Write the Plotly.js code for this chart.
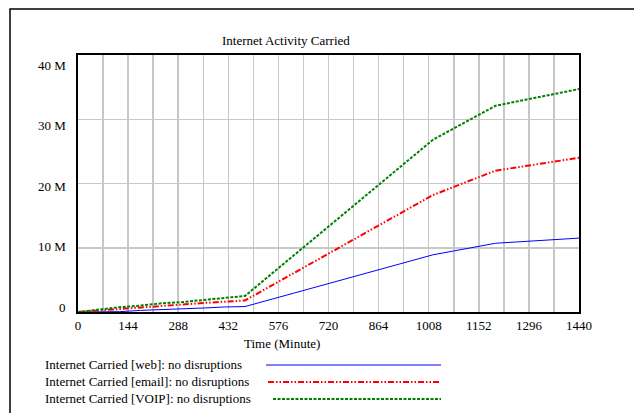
<!DOCTYPE html>
<html>
<head>
<meta charset="utf-8">
<script src="https://cdn.plot.ly/plotly-3.0.1.min.js"></script>
<style>
html,body{margin:0;padding:0;background:#fff;}
#chart{width:634px;height:413px;}
</style>
</head>
<body>
<div id="chart"></div>
<script>
// ---- data ----
var timeMinutes = [0,60,120,180,240,300,360,420,480,540,600,660,720,780,840,900,960,1020,1080,1140,1200,1260,1320,1380,1440];
var webCarried = [0,0.02,0.05,0.25,0.35,0.5,0.62,0.78,0.85,1.74,2.64,3.53,4.43,5.32,6.22,7.11,8.0,8.9,9.5,10.1,10.7,10.9,11.1,11.3,11.5];
var emailCarried = [0,0.25,0.5,0.75,0.95,1.15,1.4,1.6,1.8,3.62,5.44,7.27,9.09,10.91,12.73,14.56,16.38,18.2,19.47,20.73,22.0,22.5,23.0,23.5,24.0];
var voipCarried = [0,0.42,0.75,1.0,1.35,1.55,1.9,2.2,2.5,5.2,7.9,10.6,13.3,16.0,18.7,21.4,24.1,26.8,28.57,30.33,32.1,32.75,33.4,34.05,34.7];
var seriesNames = ["Internet Carried [web]: no disruptions","Internet Carried [email]: no disruptions","Internet Carried [VOIP]: no disruptions"];
var xTickVals = [0,144,288,432,576,720,864,1008,1152,1296,1440];
var yTickVals = [0,10e6,20e6,30e6,40e6];
var yTickText = ["0","10 M","20 M","30 M","40 M"];
var chartTitle = "Internet Activity Carried";
var xTitle = "Time (Minute)";

function M(arr){ return arr.map(function(v){ return v*1e6; }); }

// ---- geometry (pixels) ----
var W = 634, H = 413;
var L = 78, R = 579, T = 55, B = 312;
function px(x){ return (x - L) / (R - L); }
function py(y){ return (B - y) / (B - T); }

var FONT = "Liberation Serif, Times New Roman, serif";
var styles = [
  {color:"#0000ff", width:1, dash:"solid"},
  {color:"#ff0000", width:2, dash:"6px,2px,1.5px,2px,1.5px,2px"},
  {color:"#008000", width:2, dash:"3px,1.5px"}
];
var values = [webCarried, emailCarried, voipCarried];

var traces = values.map(function(v,i){
  return {x: timeMinutes, y: M(v), type:"scatter", mode:"lines", name: seriesNames[i],
          line:{color:styles[i].color, width:styles[i].width, dash:styles[i].dash},
          showlegend:false, hoverinfo:"skip"};
});

var annotations = [];
annotations.push({text: chartTitle, xref:"paper", yref:"paper", x:px(285.5), y:py(40),
  xanchor:"center", yanchor:"middle", showarrow:false, font:{family:FONT, size:13, color:"#000"}});
annotations.push({text: xTitle, xref:"paper", yref:"paper", x:px(282), y:py(343),
  xanchor:"center", yanchor:"middle", showarrow:false, font:{family:FONT, size:13, color:"#000"}});
// y tick labels (drawn in a slightly compressed band, as in the source)
var labTop = 65, labBot = 307;
yTickVals.forEach(function(v,i){
  var ypix = labBot - (v/40e6)*(labBot-labTop);
  annotations.push({text: yTickText[i], xref:"paper", yref:"paper", x:px(68), y:py(ypix),
    xanchor:"right", yanchor:"middle", showarrow:false, font:{family:FONT, size:13, color:"#000"}});
});
// legend texts
var legY = [364, 381, 398];
var legX0 = [266, 268, 273], legX1 = [441, 439, 441];
var shapes = [];
seriesNames.forEach(function(n,i){
  annotations.push({text:n, xref:"paper", yref:"paper", x:px(43), y:py(legY[i]),
    xanchor:"left", yanchor:"middle", showarrow:false, font:{family:FONT, size:13, color:"#000"}});
  shapes.push({type:"line", xref:"paper", yref:"paper", x0:px(legX0[i]), x1:px(legX1[i]),
    y0:py(legY[i]+1), y1:py(legY[i]+1),
    line:{color:styles[i].color, width:styles[i].width, dash:styles[i].dash}});
});
// outer frame
shapes.push({type:"rect", xref:"paper", yref:"paper", x0:px(10), x1:px(700), y0:py(9), y1:py(500),
  line:{color:"#000", width:1.5}, fillcolor:"rgba(0,0,0,0)", layer:"below"});

var layout = {
  width:W, height:H,
  margin:{l:L, r:W-R, t:T, b:H-B, pad:0},
  paper_bgcolor:"#fff", plot_bgcolor:"#fff",
  font:{family:FONT, size:13, color:"#000"},
  showlegend:false,
  xaxis:{range:[0,1440], tickvals:xTickVals, ticktext:xTickVals.map(String),
    showgrid:true, gridcolor:"#c8c8c8", gridwidth:1.5,
    minor:{dtick:72, tick0:0, showgrid:true, gridcolor:"#c8c8c8", gridwidth:1.5},
    showline:true, mirror:true, linecolor:"#000", linewidth:2,
    ticks:"", zeroline:false, tickfont:{family:FONT, size:13, color:"#000"}},
  yaxis:{range:[0,40e6], tickvals:yTickVals, showticklabels:false,
    showgrid:true, gridcolor:"#c8c8c8", gridwidth:1.5,
    showline:true, mirror:true, linecolor:"#000", linewidth:2,
    ticks:"", zeroline:false},
  annotations:annotations,
  shapes:shapes
};

Plotly.newPlot("chart", traces, layout, {staticPlot:true, displayModeBar:false});
</script>
</body>
</html>
